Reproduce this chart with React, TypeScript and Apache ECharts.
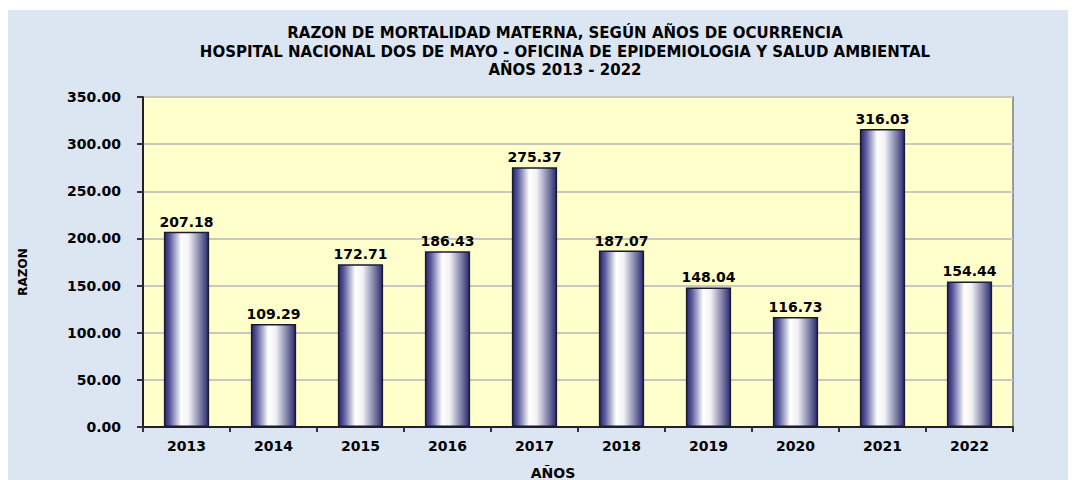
import React, { useEffect, useRef } from "react";
import * as echarts from "echarts";

const years = ["2013", "2014", "2015", "2016", "2017", "2018", "2019", "2020", "2021", "2022"];
const razon = [207.18, 109.29, 172.71, 186.43, 275.37, 187.07, 148.04, 116.73, 316.03, 154.44];
const titleLines = [
  "RAZON DE MORTALIDAD MATERNA, SEGÚN AÑOS DE OCURRENCIA",
  "HOSPITAL NACIONAL DOS DE MAYO - OFICINA DE EPIDEMIOLOGIA Y SALUD AMBIENTAL",
  "AÑOS 2013 - 2022",
];
const yAxisName = "RAZON";
const xAxisName = "AÑOS";

const FONT = "'DejaVu Sans', Verdana, sans-serif";

export default function App() {
  const ref = useRef<HTMLDivElement>(null);
  useEffect(() => {
    if (!ref.current) return;
    const chart = echarts.init(ref.current, undefined, { renderer: "svg" });
    const barColor = new echarts.graphic.LinearGradient(0, 0, 1, 0, [
      { offset: 0, color: "#26266f" },
      { offset: 0.12, color: "#5a5a9c" },
      { offset: 0.38, color: "#ffffff" },
      { offset: 0.55, color: "#f2f2f6" },
      { offset: 0.82, color: "#7c7ca6" },
      { offset: 1, color: "#2a2a70" },
    ]);
    chart.setOption({
      animation: false,
      backgroundColor: "#dce6f2",
      title: {
        text: titleLines.join("\n"),
        left: 552,
        top: 9,
        textAlign: "center",
        textStyle: {
          fontFamily: FONT,
          fontSize: 15,
          fontWeight: "bold",
          color: "#000",
          lineHeight: 18.5,
        },
      },
      graphic: [
        {
          type: "text",
          x: 15,
          y: 262,
          rotation: Math.PI / 2,
          style: {
            text: yAxisName,
            fontFamily: FONT,
            fontSize: 12,
            fontWeight: "bold",
            fill: "#000",
            textAlign: "center",
            textVerticalAlign: "middle",
          },
        },
        {
          type: "text",
          x: 545,
          y: 463,
          style: {
            text: xAxisName,
            fontFamily: FONT,
            fontSize: 14,
            fontWeight: "bold",
            fill: "#000",
            textAlign: "center",
            textVerticalAlign: "middle",
          },
        },
      ],
      grid: {
        left: 135,
        right: 63,
        top: 87,
        bottom: 53,
        show: true,
        backgroundColor: "#ffffcc",
        borderColor: "#9a9a9a",
        borderWidth: 2,
        containLabel: false,
      },
      xAxis: {
        type: "category",
        data: years,
        axisLine: { lineStyle: { color: "#222", width: 2 } },
        axisTick: { show: true, length: 5, lineStyle: { color: "#333", width: 2 } },
        axisLabel: { margin: 12, fontFamily: FONT, fontSize: 14, fontWeight: "bold", color: "#000" },
      },
      yAxis: {
        type: "value",
        min: 0,
        max: 350,
        interval: 50,
        axisLine: { show: true, lineStyle: { color: "#222", width: 2 } },
        axisTick: { show: true, length: 6, lineStyle: { color: "#333", width: 2 } },
        axisLabel: {
          margin: 22,
          fontFamily: FONT,
          fontSize: 14,
          fontWeight: "bold",
          color: "#000",
          formatter: (v: number) => v.toFixed(2),
        },
        splitLine: { show: true, lineStyle: { color: "#c8c8c0", width: 2 } },
      },
      series: [
        {
          type: "bar",
          data: razon,
          barWidth: "52%",
          itemStyle: { color: barColor, borderColor: "#1a1a30", borderWidth: 1.5 },
          label: {
            show: true,
            position: "top",
            distance: 3,
            fontFamily: FONT,
            fontSize: 14,
            fontWeight: "bold",
            color: "#000",
            formatter: (p: any) => Number(p.value).toFixed(2),
          },
        },
      ],
    });
    return () => chart.dispose();
  }, []);
  return (
    <div style={{ paddingTop: 2 }}>
      <div ref={ref} style={{ width: 1068, height: 470 }} />
    </div>
  );
}
